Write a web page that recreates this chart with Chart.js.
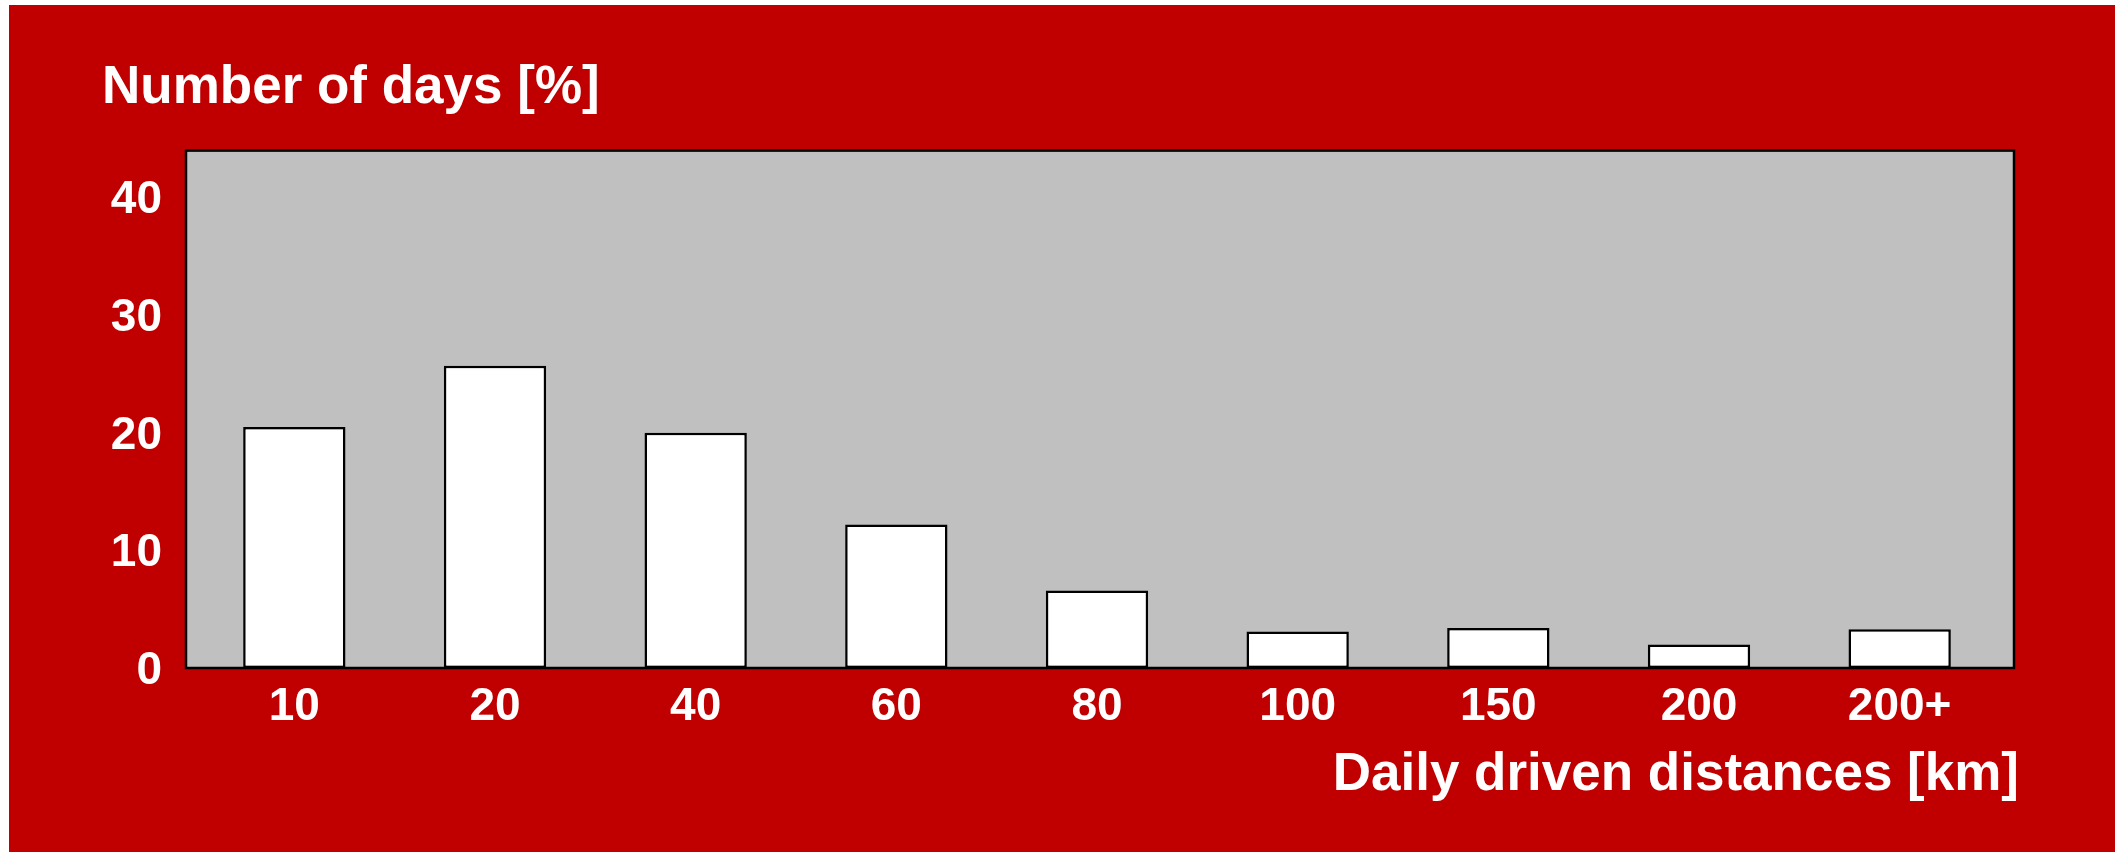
<!DOCTYPE html>
<html lang="en">
<head>
<meta charset="UTF-8">
<title>Daily driven distances</title>
<script src="https://cdn.jsdelivr.net/npm/chart.js"></script>
<style>
    html, body {
        margin: 0;
        padding: 0;
        background-color: #ffffff;
        overflow: hidden;
    }

    .panel {
        position: absolute;
        left: 9px;
        top: 5px;
        width: 2106px;
        height: 847px;
        background-color: #c00000;
    }
</style>
</head>
<body>

<div class="panel">
    <canvas id="distChart" width="2106" height="847"></canvas>
</div>

<script>
    // distance classes (km) and share of days (%)
    const distanceLabels = ['10', '20', '40', '60', '80', '100', '150', '200', '200+'];
    const dayShares = [20.5, 25.7, 20.0, 12.2, 6.6, 3.1, 3.4, 2.0, 3.3];

    // value axis
    const yMin = 0;
    const yMax = 44;
    const yStep = 10;

    const FONT = '"Liberation Sans", Arial, Helvetica, sans-serif';

    // the grey box is a little wider than the bar area on both sides
    const FRAME_LEFT = 8;
    const FRAME_RIGHT = 14;

    const plotFrame = {
        id: 'plotFrame',
        beforeDraw(chart) {
            const { ctx, chartArea: a } = chart;
            ctx.save();
            ctx.fillStyle = '#c0c0c0';
            ctx.fillRect(a.left - FRAME_LEFT, a.top, a.right - a.left + FRAME_LEFT + FRAME_RIGHT, a.bottom - a.top);
            ctx.restore();
        },
        afterDatasetsDraw(chart) {
            const { ctx, chartArea: a } = chart;
            ctx.save();
            ctx.strokeStyle = '#000000';
            ctx.lineWidth = 2.5;
            ctx.strokeRect(a.left - FRAME_LEFT, a.top, a.right - a.left + FRAME_LEFT + FRAME_RIGHT, a.bottom - a.top);
            ctx.restore();
        },
        afterDraw(chart) {
            // x axis caption, right-aligned under the box
            const { ctx, chartArea: a } = chart;
            ctx.save();
            ctx.fillStyle = '#ffffff';
            ctx.font = 'bold 53px ' + FONT;
            ctx.textAlign = 'right';
            ctx.textBaseline = 'middle';
            ctx.fillText('Daily driven distances [km]', a.right + FRAME_RIGHT + 5, a.bottom + 107);
            ctx.restore();
        }
    };

    const ctx = document.getElementById('distChart').getContext('2d');
    new Chart(ctx, {
        type: 'bar',
        data: {
            labels: distanceLabels,
            datasets: [{
                data: dayShares,
                backgroundColor: '#ffffff',
                borderColor: '#000000',
                borderWidth: 2.5,
                borderSkipped: false,
                barPercentage: 0.51,
                categoryPercentage: 1.0
            }]
        },
        options: {
            responsive: false,
            animation: false,
            layout: {
                padding: { left: 93, right: 115, top: 0, bottom: 0 }
            },
            plugins: {
                legend: { display: false },
                tooltip: { enabled: false },
                title: {
                    display: true,
                    text: 'Number of days [%]',
                    align: 'start',
                    color: '#ffffff',
                    font: { family: FONT, size: 53, weight: 'bold' },
                    padding: { top: 52, bottom: 30 }
                }
            },
            scales: {
                x: {
                    grid: { display: false, drawTicks: false },
                    border: { display: false },
                    ticks: {
                        color: '#ffffff',
                        padding: 12,
                        font: { family: FONT, size: 46, weight: 'bold' }
                    },
                    afterFit(scale) {
                        scale.height = 184;
                    }
                },
                y: {
                    min: yMin,
                    max: yMax,
                    grid: { display: false, drawTicks: false },
                    border: { display: false },
                    ticks: {
                        stepSize: yStep,
                        includeBounds: false,
                        color: '#ffffff',
                        padding: 32,
                        labelOffset: 3,
                        font: { family: FONT, size: 46, weight: 'bold' }
                    },
                    afterFit(scale) {
                        scale.width = 92;
                    }
                }
            }
        },
        plugins: [plotFrame]
    });
</script>

</body>
</html>
